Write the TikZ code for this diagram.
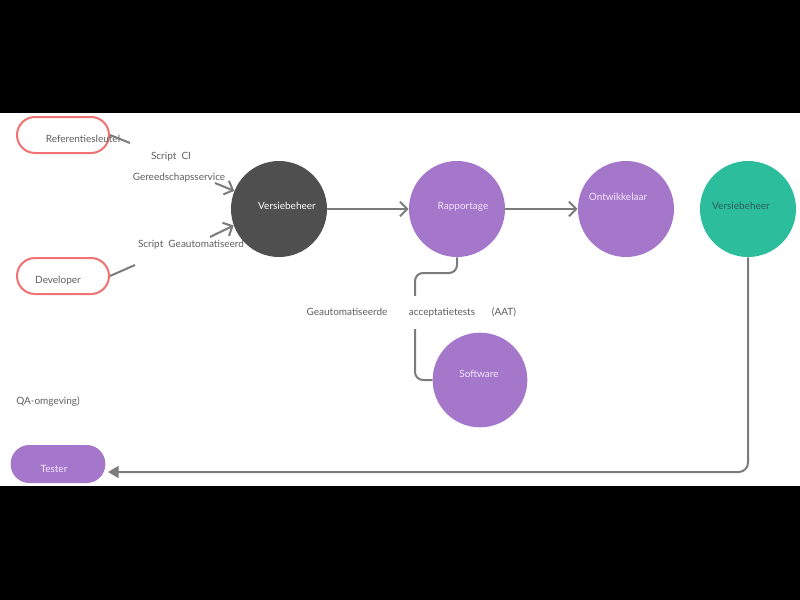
\documentclass[tikz,border=0pt]{standalone}
\usepackage{fontspec}
\setmainfont{Lato}
\usetikzlibrary{arrows.meta}
\definecolor{pillred}{HTML}{F07272}
\definecolor{purp}{HTML}{A577CB}
\definecolor{darkc}{HTML}{4F4F4F}
\definecolor{tealc}{HTML}{2CBD9D}
\definecolor{lgray}{HTML}{7B7B7B}
\definecolor{tgray}{HTML}{5F5F5F}
\definecolor{ltxt}{HTML}{F3E6FF}
\definecolor{ttxt}{HTML}{2E5E54}
\begin{document}
\begin{tikzpicture}[x=0.75pt,y=-0.75pt,
  pillo/.style={draw=pillred,line width=1.5pt,rounded corners=13.5pt,minimum width=69pt,minimum height=27pt,inner sep=0pt},
  pillf/.style={fill=purp,rounded corners=14pt,minimum width=71pt,minimum height=28.5pt,inner sep=0pt},
  circ/.style={circle,minimum size=72pt,inner sep=0pt},
  txt/.style={text=tgray,font=\fontsize{7.5}{9}\selectfont,inner sep=1pt,yshift=-1pt},
  wtxt/.style={text=ltxt,font=\fontsize{7.5}{9}\selectfont,inner sep=1pt,yshift=-1pt},
  conn/.style={draw=lgray,line width=1.5pt},
  arr/.style={conn,-{Straight Barb[length=5.5pt,width=11pt,line width=1.5pt]}},
  tri/.style={conn,-{Triangle[length=8pt,width=9pt]}}
]
\fill[black] (0,0) rectangle (800,600);
\fill[white] (0,113) rectangle (800,486);
\useasboundingbox (0,0) rectangle (800,600);

% pills
\node[pillo] (ref) at (63,135) {};
\node[txt] (reft) at (83,138) {Referentiesleutel};
\node[pillo] (dev) at (63,276) {};
\node[txt] (devt) at (58,279) {Developer};
\node[pillf] (tes) at (58,464) {};
\node[wtxt] (test) at (54,468) {Tester};

% circles
\node[circ,fill=darkc] (vb) at (279,209) {};
\node[text=white,font=\fontsize{7.5}{9}\selectfont,yshift=-1pt] (vbt) at (287,205) {Versiebeheer};
\node[circ,fill=purp] (rap) at (457,209) {};
\node[wtxt] (rapt) at (463,205) {Rapportage};
\node[circ,fill=purp] (ont) at (626,209) {};
\node[wtxt] (ontt) at (618,196) {Ontwikkelaar};
\node[circ,fill=tealc] (tv) at (748,209) {};
\node[text=ttxt,font=\fontsize{7.5}{9}\selectfont,yshift=-1pt] (tvt) at (741,205) {Versiebeheer};
\node[circ,fill=purp,minimum size=71pt] (sw) at (480,380) {};
\node[wtxt] (swt) at (479,373) {Software};

% labels
\node[txt] (l1) at (171,155) {Script\ \ CI};
\node[txt] (l2) at (179,176) {Gereedschapsservice};
\node[txt] (l3) at (191,243) {Script\ \ Geautomatiseerd};
\node[txt] (l4) at (48,400) {QA-omgeving)};

% connectors
\coordinate (refend) at (130,143);
\coordinate (devend) at (135,265);
\coordinate (a1) at (215,183);
\coordinate (a2) at (210,237);
\draw[conn] (ref.east) -- (refend);
\draw[conn] (dev.east) -- (devend);
\draw[arr] (a1) -- (vb.158);
\draw[arr] (a2) -- (vb.200);
\draw[arr] (vb.east) -- (rap.west);
\draw[arr] (rap.east) -- (ont.west);
\coordinate (k1) at (415,273);
\draw[conn,rounded corners=6pt] (rap.south) |- (k1) |- (sw.west);
\coordinate (tk) at (108,472);
\draw[tri,rounded corners=7pt] (tv.south) |- (tk);

% AAT labels
\node[txt,fill=white,inner ysep=8pt] (g1) at (347,311) {Geautomatiseerde};
\node[txt,fill=white,inner ysep=9pt] (g2) at (442,311) {acceptatietests};
\node[txt,fill=white] (g3) at (504,311) {(AAT)};
\end{tikzpicture}
\end{document}
